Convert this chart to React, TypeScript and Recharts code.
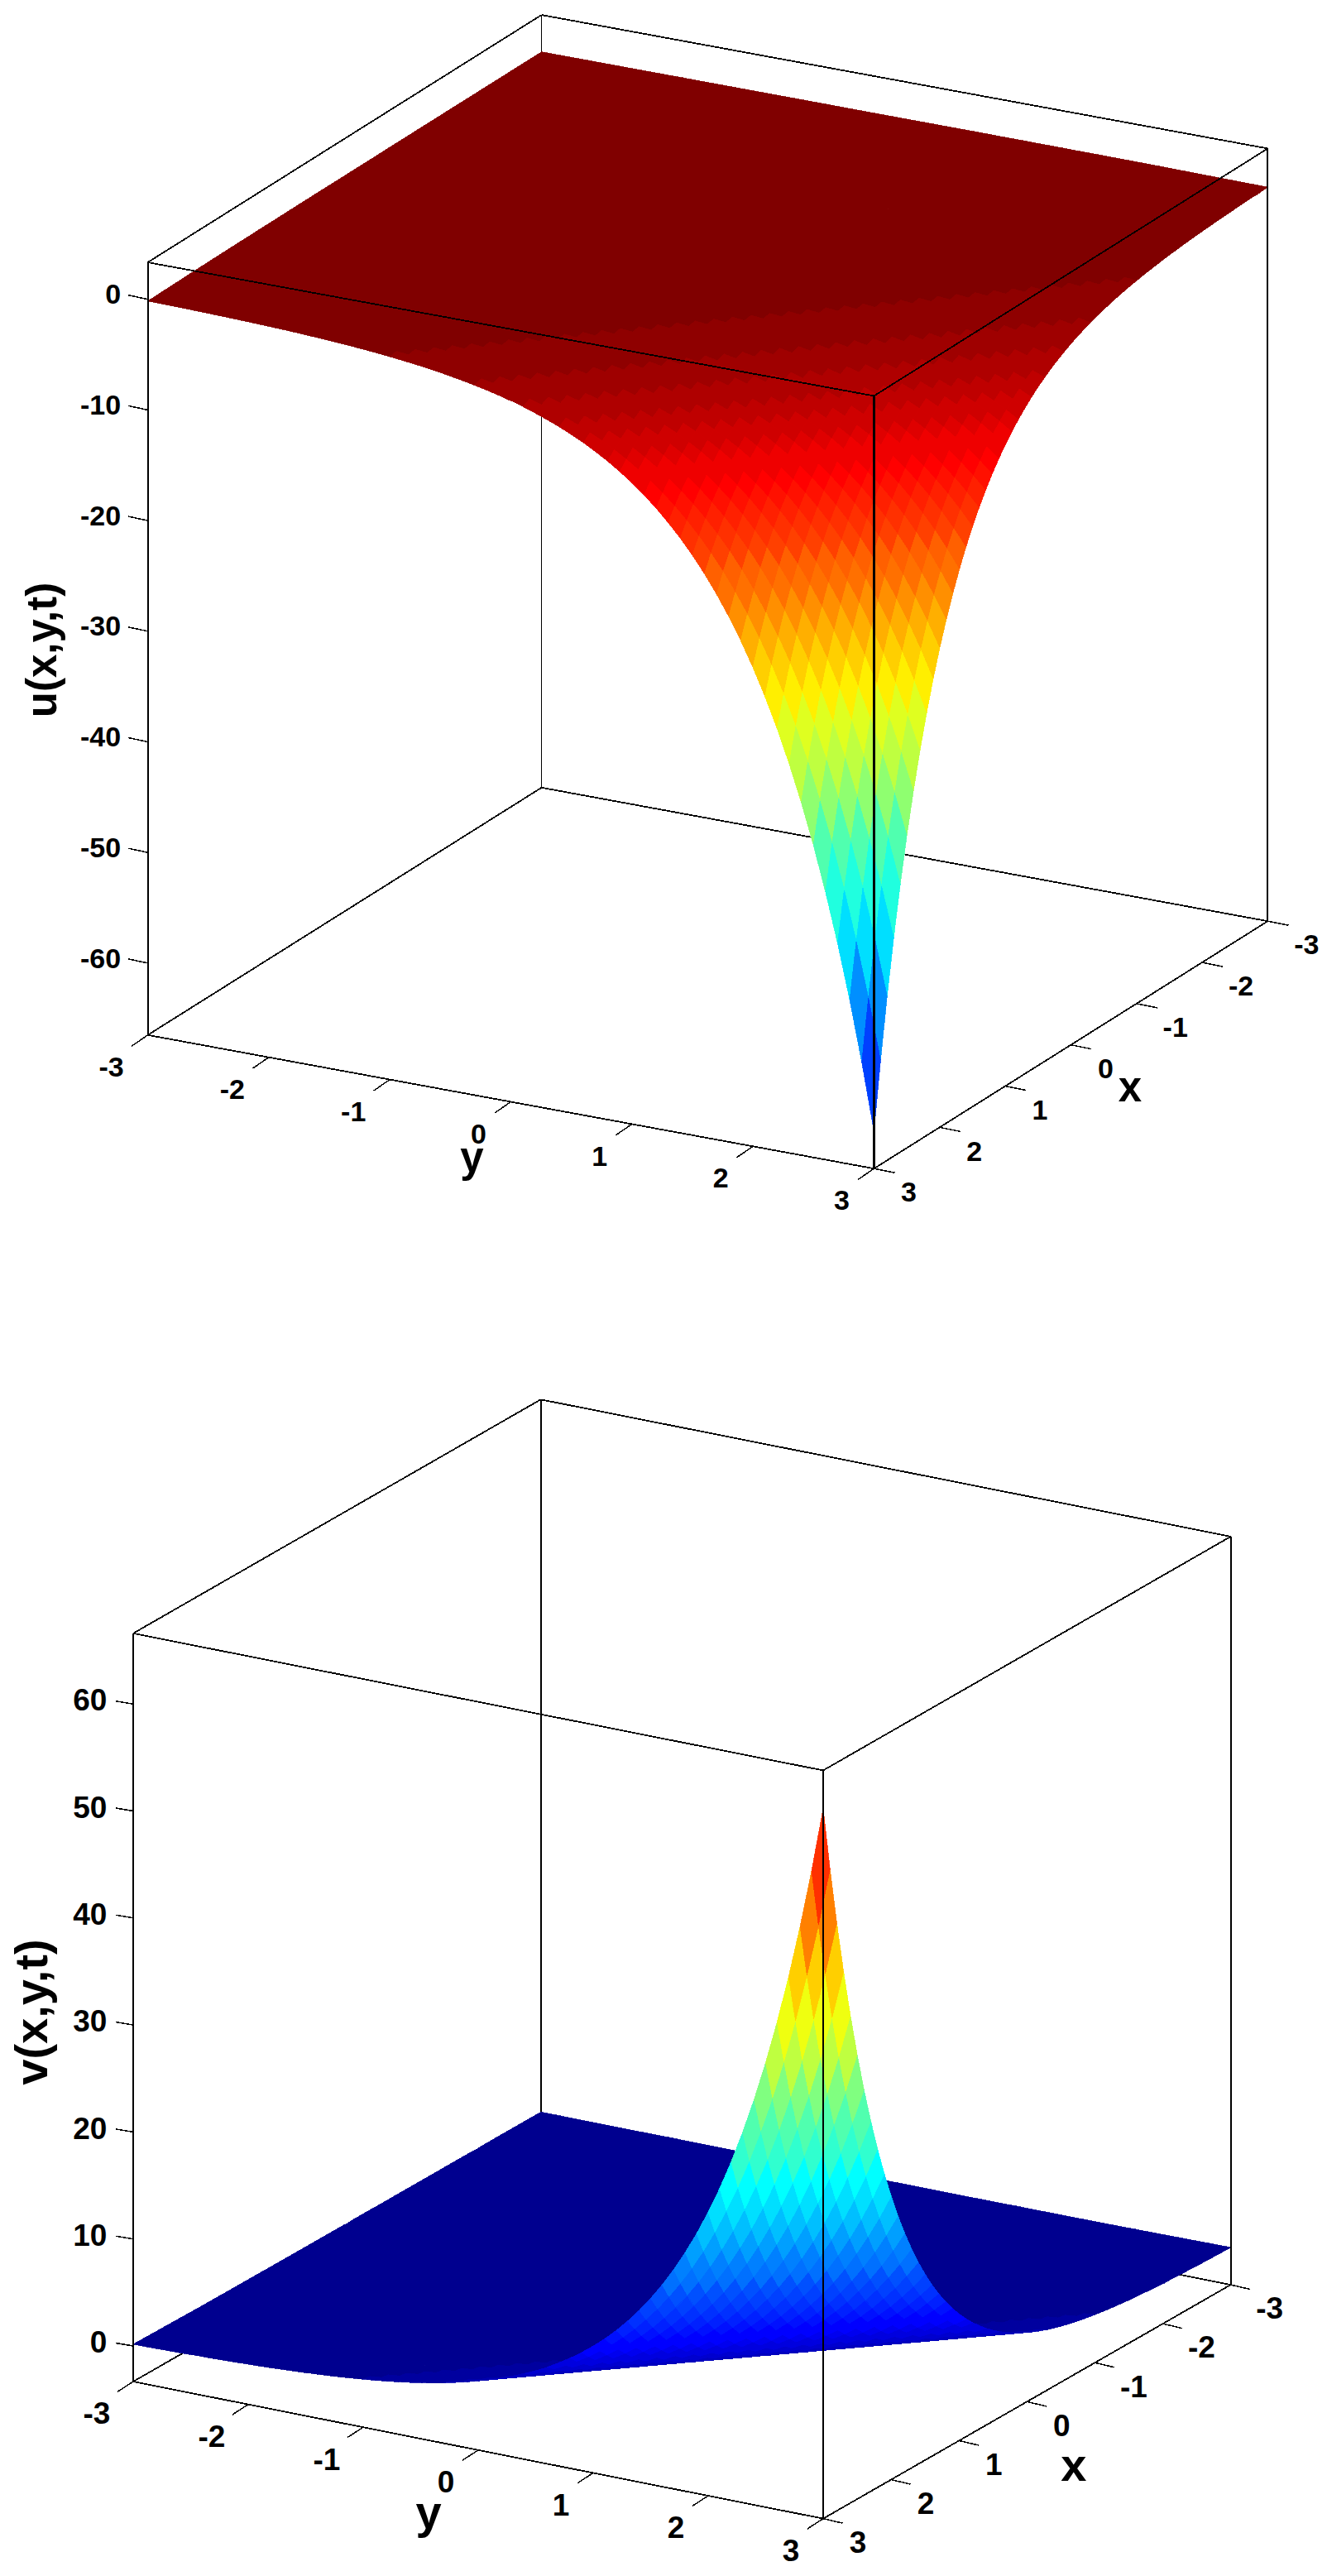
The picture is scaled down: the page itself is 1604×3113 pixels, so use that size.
import { ScatterChart, Scatter, XAxis, YAxis } from "recharts";

const GRID_CELLS = 60;
const GRID_STEP = 0.1;
const FONT = "'Liberation Sans', Arial, sans-serif";

// surface height read along each diagonal x + y, from -6 to 6 in steps of 0.1
const uBySum = [
  0, 0, 0, 0, 0, 0, 0, 0, 0, 0, 0, 0, 0, 0, 0, 0, 0, 0, 0, 0, 0, 0, 0, 0, 0,
  -0.01, -0.01, -0.01, -0.01, -0.01, -0.01, -0.01, -0.01, -0.01, -0.01, -0.01, -0.01, -0.01,
  -0.02, -0.02, -0.02, -0.03, -0.03, -0.03, -0.04,
  -0.04, -0.04, -0.05, -0.05, -0.06, -0.06, -0.07, -0.08, -0.09, -0.1, -0.11, -0.12, -0.13, -0.14, -0.15,
  -0.16, -0.17, -0.19, -0.21, -0.23, -0.26, -0.29, -0.32, -0.35, -0.39,
  -0.43, -0.47, -0.52, -0.58, -0.64, -0.7, -0.78, -0.86, -0.95, -1.05,
  -1.16, -1.28, -1.41, -1.56, -1.72, -1.91, -2.11, -2.33, -2.57, -2.84,
  -3.14, -3.47, -3.84, -4.24, -4.69, -5.18, -5.72, -6.33, -6.99, -7.73,
  -8.54, -9.44, -10.43, -11.53, -12.74, -14.08, -15.56, -17.2, -19.01, -21.01,
  -23.21, -25.65, -28.35, -31.33, -34.63, -38.27, -42.3, -46.75, -51.66, -57.09,
  -63.1,
];

const vBySum = [
  0, 0, 0, 0, 0, 0, 0, 0, 0, 0, 0, 0, 0, 0, 0, 0, 0, 0, 0, 0, 0, 0, 0, 0, 0,
  0.01, 0.01, 0.01, 0.01, 0.01, 0.01, 0.01, 0.01, 0.01, 0.01, 0.01, 0.01, 0.01,
  0.02, 0.02, 0.02, 0.03, 0.03, 0.03, 0.04,
  0.04, 0.04, 0.05, 0.05, 0.06, 0.06, 0.07, 0.08, 0.09, 0.1, 0.11, 0.12, 0.13, 0.14, 0.15,
  0.16, 0.17, 0.19, 0.21, 0.23, 0.26, 0.29, 0.32, 0.35, 0.39,
  0.43, 0.47, 0.52, 0.58, 0.64, 0.7, 0.78, 0.86, 0.95, 1.05,
  1.16, 1.28, 1.41, 1.56, 1.72, 1.9, 2.1, 2.32, 2.57, 2.84,
  3.14, 3.47, 3.83, 4.23, 4.68, 5.17, 5.71, 6.32, 6.98, 7.72,
  8.53, 9.42, 10.41, 11.51, 12.72, 14.06, 15.54, 17.17, 18.98, 20.97,
  23.18, 25.61, 28.3, 31.28, 34.57, 38.21, 42.23, 46.67, 51.58, 57.0,
  63.0,
];

const planeTicks = [-3, -2, -1, 0, 1, 2, 3];
const uHeightTicks = [0, -10, -20, -30, -40, -50, -60];
const vHeightTicks = [0, 10, 20, 30, 40, 50, 60];

const uPanel = {
  table: uBySum,
  zTicks: uHeightTicks,
  zRange: [-66.5, 3.34],
  height: 1556,
  leftX: 178.6,
  zeroY: 361.7,
  zScale: 13.37,
  yStep: [146.3, 26.9],
  xStep: [79.33, -49.83],
  zTitle: "u(x,y,t)",
  zTitleAt: -31.7,
  zTitleDx: -110.3,
  tickFont: 34,
  titleFont: 51,
  zTick: [-23.5, -5, -32.5, -6.5],
  yTickMark: [-19.6, 13.5],
  xTickMark: [25, 5],
  xTitle: { at: 0, dx: 71.5, dy: 68.7 },
  yTitle: { at: 0, dx: -47, dy: 84 },
};

const vPanel = {
  table: vBySum,
  zTicks: vHeightTicks,
  zRange: [-3.33, 66.6],
  height: 1557,
  leftX: 161,
  zeroY: 1279,
  zScale: 12.93,
  yStep: [139, 27.6],
  xStep: [82.1, -47.1],
  zTitle: "v(x,y,t)",
  zTitleAt: 31.2,
  zTitleDx: -104.3,
  tickFont: 37,
  titleFont: 56,
  zTick: [-21, -3.5, -31.7, -5],
  yTickMark: [-19, 12.3],
  xTickMark: [23.5, 5.5],
  xTitle: { at: 0, dx: 56.5, dy: 96 },
  yTitle: { at: 0, dx: -60, dy: 94 },
};

type Panel = typeof uPanel;

// the classic 64 step jet colour map
const jetColor = (t: number) => {
  const n = Math.min(63, Math.max(0, Math.floor(t * 64))) + 1;
  const r = n <= 24 ? 0 : n <= 40 ? (n - 24) / 16 : n <= 56 ? 1 : 1 - (n - 56) / 16;
  const g = n <= 8 ? 0 : n <= 24 ? (n - 8) / 16 : n <= 40 ? 1 : n <= 56 ? 1 - (n - 40) / 16 : 0;
  const b = n <= 8 ? 0.5 + n / 16 : n <= 24 ? 1 : n <= 40 ? 1 - (n - 24) / 16 : 0;
  return `rgb(${Math.round(r * 255)},${Math.round(g * 255)},${Math.round(b * 255)})`;
};

// oblique view: chart x is in screen pixels, chart y stays in height units of the left edge
const project = (p: Panel, x: number, y: number, z: number) => ({
  px: p.leftX + (y + 3) * p.yStep[0] + (3 - x) * p.xStep[0],
  py: z - ((y + 3) * p.yStep[1] + (3 - x) * p.xStep[1]) / p.zScale,
});

const buildFacets = (p: Panel) => {
  const min = Math.min(...p.table);
  const max = Math.max(...p.table);
  const points: { px: number; py: number }[] = [];
  const colors: string[] = [];
  const at = (i: number, j: number) =>
    project(p, -3 + i * GRID_STEP, -3 + j * GRID_STEP, p.table[i + j]);
  for (let sum = 0; sum <= 2 * GRID_CELLS - 2; sum++) {
    for (let i = Math.max(0, sum - GRID_CELLS + 1); i <= Math.min(sum, GRID_CELLS - 1); i++) {
      const j = sum - i;
      points.push(at(i, j), at(i + 1, j), at(i + 1, j + 1), at(i, j + 1));
      colors.push(jetColor((p.table[sum] - min) / (max - min)));
    }
  }
  return { points, colors };
};

const edge = (p: Panel, a: number[], b: number[]) => [
  project(p, a[0], a[1], a[2]),
  project(p, b[0], b[1], b[2]),
];

const noSymbol = () => null;

const drawPairs = (strokeWidth: number) => (props: any) => {
  const pts = props.points as { x: number; y: number }[];
  const lines = [];
  for (let k = 0; k + 1 < pts.length; k += 2) {
    lines.push(
      <line key={k} x1={pts[k].x} y1={pts[k].y} x2={pts[k + 1].x} y2={pts[k + 1].y} stroke="#000" strokeWidth={strokeWidth} shapeRendering="crispEdges" />
    );
  }
  return <g>{lines}</g>;
};

const drawTicks = (dx: number, dy: number) => (props: any) => {
  const pts = props.points as { x: number; y: number }[];
  return (
    <g>
      {pts.map((pt, k) => (
        <line key={k} x1={pt.x} y1={pt.y} x2={pt.x + dx} y2={pt.y + dy} stroke="#000" strokeWidth={1.5} shapeRendering="crispEdges" />
      ))}
    </g>
  );
};

const TextMark = (props: any) => {
  const { cx, cy, payload } = props;
  const x = cx + payload.dx;
  const y = cy + payload.dy;
  return (
    <text
      x={x}
      y={y}
      textAnchor="middle"
      fontFamily={FONT}
      fontWeight={700}
      fontSize={payload.size}
      fill="#000"
      transform={payload.rotate ? `rotate(${payload.rotate} ${x} ${y})` : undefined}
    >
      {payload.label}
    </text>
  );
};

const SurfacePanel = ({ p }: { p: Panel }) => {
  const { points, colors } = buildFacets(p);
  const [zMin, zMax] = p.zRange;

  const drawFacets = (props: any) => {
    const pts = props.points as { x: number; y: number }[];
    return (
      <g shapeRendering="crispEdges">
        {colors.map((c, k) => {
          const q = pts.slice(k * 4, k * 4 + 4);
          return (
            <polygon key={k} points={q.map((pt) => `${pt.x},${pt.y}`).join(" ")} fill={c} stroke={c} strokeWidth={0.8} />
          );
        })}
      </g>
    );
  };

  const backEdges = [
    edge(p, [-3, -3, zMin], [-3, -3, zMax]),
    edge(p, [3, -3, zMin], [-3, -3, zMin]),
    edge(p, [-3, -3, zMin], [-3, 3, zMin]),
    edge(p, [3, -3, zMax], [-3, -3, zMax]),
    edge(p, [-3, -3, zMax], [-3, 3, zMax]),
  ].flat();
  const sideEdges = [
    edge(p, [3, -3, zMin], [3, 3, zMin]),
    edge(p, [3, 3, zMin], [-3, 3, zMin]),
    edge(p, [3, -3, zMax], [3, 3, zMax]),
    edge(p, [3, 3, zMax], [-3, 3, zMax]),
    edge(p, [3, -3, zMin], [3, -3, zMax]),
    edge(p, [-3, 3, zMin], [-3, 3, zMax]),
  ].flat();
  const frontEdge = edge(p, [3, 3, zMin], [3, 3, zMax]);

  const yBase = planeTicks.map((t) => project(p, 3, t, zMin));
  const xBase = planeTicks.map((t) => project(p, t, 3, zMin));

  const labels = [
    ...planeTicks.map((t, k) => ({
      ...yBase[k],
      label: String(t),
      dx: t < 0 ? -44 : -39,
      dy: 38 + p.tickFont * 0.358,
      size: p.tickFont,
    })),
    ...planeTicks.map((t, k) => ({
      ...xBase[k],
      label: String(t),
      dx: t < 0 ? 47 : 42,
      dy: 28 + p.tickFont * 0.358,
      size: p.tickFont,
    })),
    { ...project(p, 3, p.yTitle.at, zMin), label: "y", dx: p.yTitle.dx, dy: p.yTitle.dy, size: p.titleFont },
    { ...project(p, p.xTitle.at, 3, zMin), label: "x", dx: p.xTitle.dx, dy: p.xTitle.dy, size: p.titleFont },
    { ...project(p, 3, -3, p.zTitleAt), label: p.zTitle, dx: p.zTitleDx, dy: 0, size: p.titleFont, rotate: -90 },
  ];

  const [tx, ty, lx, ly] = p.zTick;
  const heightTick = (props: any) => (
    <g>
      <line x1={props.x} y1={props.y} x2={props.x + tx} y2={props.y + ty} stroke="#000" strokeWidth={1.5} shapeRendering="crispEdges" />
      <text
        x={props.x + lx}
        y={props.y + ly + p.tickFont * 0.358}
        textAnchor="end"
        fontFamily={FONT}
        fontWeight={700}
        fontSize={p.tickFont}
        fill="#000"
      >
        {props.payload.value}
      </text>
    </g>
  );

  return (
    <ScatterChart width={1604} height={p.height} margin={{ top: 0, right: 0, bottom: 0, left: 0 }}>
      <XAxis type="number" dataKey="px" domain={[p.leftX, 1604]} hide />
      <YAxis
        type="number"
        dataKey="py"
        width={p.leftX}
        domain={[(p.zeroY - p.height) / p.zScale, p.zeroY / p.zScale]}
        ticks={p.zTicks}
        interval={0}
        axisLine={false}
        tickLine={false}
        tickSize={0}
        tickMargin={0}
        tick={heightTick}
      />
      <Scatter data={backEdges} line={drawPairs(1.8)} shape={noSymbol} isAnimationActive={false} />
      <Scatter data={points} line={drawFacets} shape={noSymbol} isAnimationActive={false} />
      <Scatter data={sideEdges} line={drawPairs(1.8)} shape={noSymbol} isAnimationActive={false} />
      <Scatter data={frontEdge} line={drawPairs(2.2)} shape={noSymbol} isAnimationActive={false} />
      <Scatter data={yBase} line={drawTicks(p.yTickMark[0], p.yTickMark[1])} shape={noSymbol} isAnimationActive={false} />
      <Scatter data={xBase} line={drawTicks(p.xTickMark[0], p.xTickMark[1])} shape={noSymbol} isAnimationActive={false} />
      <Scatter data={labels} shape={TextMark} isAnimationActive={false} />
    </ScatterChart>
  );
};

export default function App() {
  return (
    <div style={{ position: "absolute", left: 0, top: 0, width: 1604, height: 3113, background: "#fff" }}>
      <SurfacePanel p={uPanel} />
      <SurfacePanel p={vPanel} />
    </div>
  );
}
